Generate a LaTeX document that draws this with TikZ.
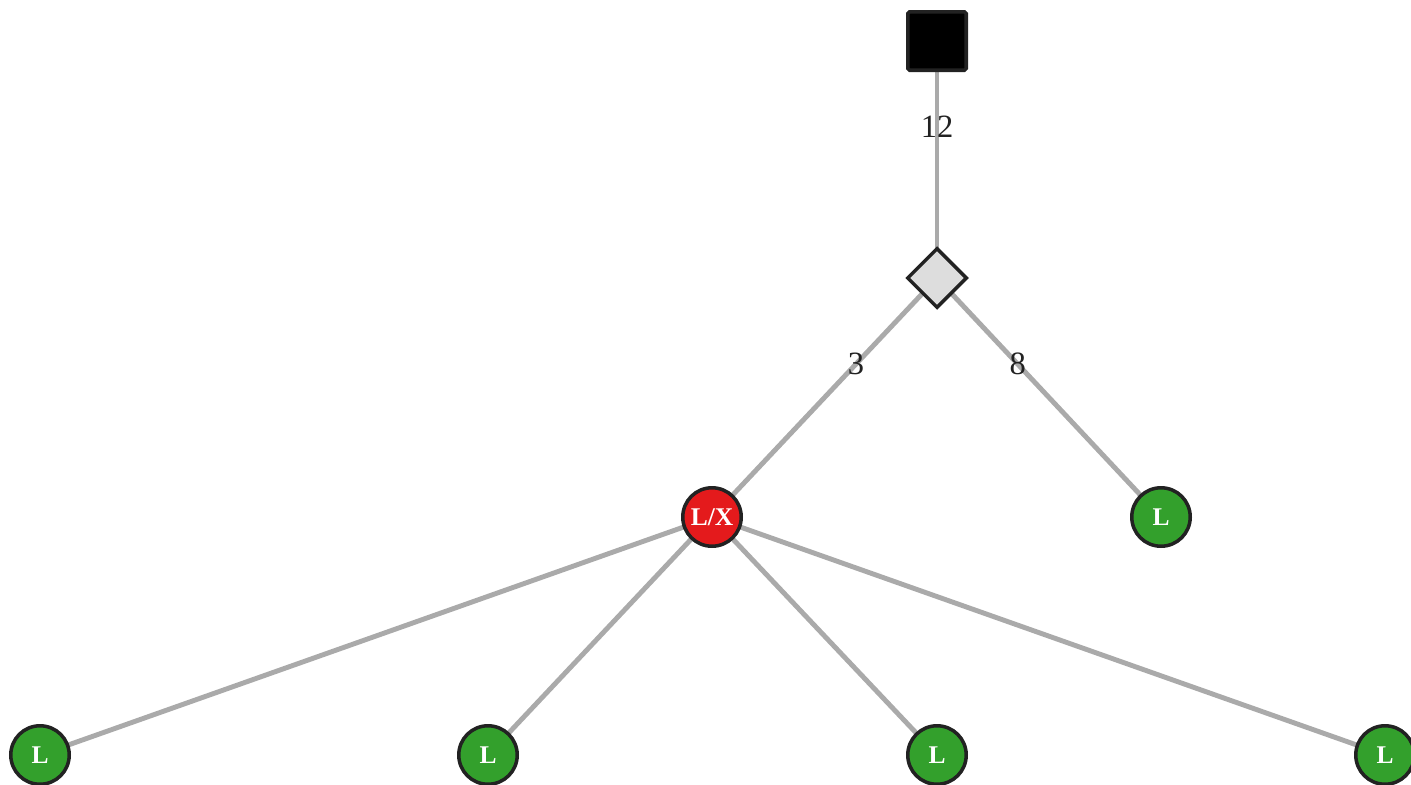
\documentclass[tikz,border=0pt]{standalone}
\usepackage{fontspec}
\setmainfont{Liberation Serif}
\usetikzlibrary{shapes.geometric,backgrounds}

\definecolor{edgegray}{HTML}{AAAAAA}
\definecolor{rimdark}{HTML}{222222}
\definecolor{lxred}{HTML}{E41A1C}
\definecolor{lgreen}{HTML}{33A02C}
\definecolor{decgray}{HTML}{DDDDDD}

\begin{document}
\begin{tikzpicture}[x=0.02cm, y=-0.02cm,
    edge/.style={line width=2.8pt, draw=edgegray},
    weight/.style={pos=0.36, text=rimdark, font=\fontsize{18.5}{20}\selectfont},
    leaf/.style={circle, draw=rimdark, line width=2pt, fill=lgreen, minimum size=1.17cm,
      inner sep=0pt, text=white, font=\bfseries\fontsize{14.5}{16}\selectfont},
    risk/.style={leaf, fill=lxred},
    decision/.style={rectangle, rounded corners=1pt, draw=rimdark, line width=2pt,
      fill=black, minimum size=1.17cm, inner sep=0pt},
    chance/.style={diamond, draw=rimdark, line width=2pt, fill=decgray,
      minimum size=1.2cm, inner sep=0pt}]

  \useasboundingbox (0,0) rectangle (1411,785);

  \node[decision] (root) at (937,41) {};
  \node[chance]   (fork) at (937,278) {};

  \node[risk] (lx)    at (712,517)  {L/X};
  \node[leaf] (right) at (1161,517) {L};

  \node[leaf] (b1) at (40,755)   {L};
  \node[leaf] (b2) at (488,755)  {L};
  \node[leaf] (b3) at (937,755)  {L};
  \node[leaf] (b4) at (1385,755) {L};

  \begin{scope}[on background layer]
    \draw[edge] (root.center) -- (fork.center) node[weight] {12};
    \draw[edge] (fork.center) -- (lx.center) node[weight] {3};
    \draw[edge] (fork.center) -- (right.center) node[weight] {8};
    \foreach \b in {b1,b2,b3,b4}
      \draw[edge] (lx.center) -- (\b.center);
  \end{scope}

\end{tikzpicture}
\end{document}
